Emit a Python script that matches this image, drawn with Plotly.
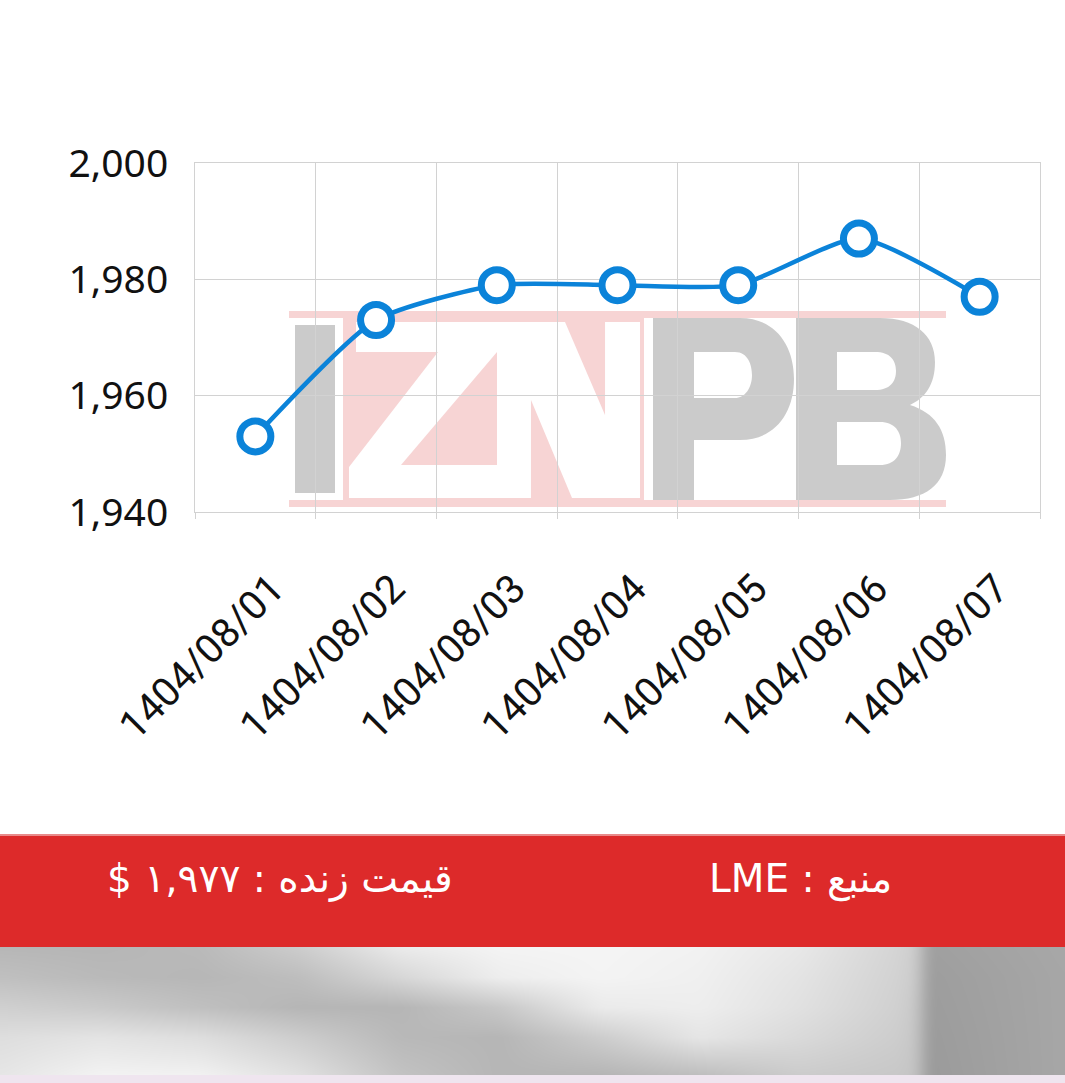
import base64
import struct
import zlib

import numpy as np
import plotly.graph_objects as go

# ---------------- data ----------------
dates = ["1404/08/01", "1404/08/02", "1404/08/03", "1404/08/04",
         "1404/08/05", "1404/08/06", "1404/08/07"]
prices = [1953, 1973, 1979, 1979, 1979, 1987, 1977]
y_tick_vals = [1940, 1960, 1980, 2000]
y_tick_text = ["1,940", "1,960", "1,980", "2,000"]
live_price_label = "قیمت زنده : ۱,۹۷۷ $"
source_label = "منبع : LME"

# ---------------- styling ----------------
W, H = 1065, 1083
BLUE = "#0b83d9"
GRID = "#d2d2d2"
RED = "#dd2a2a"
WM_GRAY = "rgba(190,190,190,0.80)"
WM_PINK = "rgba(240,170,170,0.50)"
RLE, PDF = "\u202b", "\u202c"   # right-to-left embedding for Persian labels


def px(x):
    return x / W


def py(y):
    return 1 - y / H


def path(points_str):
    """Convert a pixel-space path ('M x,y L x,y ...') into paper coordinates."""
    out = []
    for tok in points_str.split():
        if "," in tok:
            a, b = tok.split(",")
            out.append(f"{px(float(a)):.5f},{py(float(b)):.5f}")
        else:
            out.append(tok)
    return " ".join(out)


fig = go.Figure()
fig.add_trace(go.Scatter(
    x=dates, y=prices, mode="lines+markers",
    line=dict(color=BLUE, width=4.5, shape="spline", smoothing=0.6),
    marker=dict(size=31, color="white", line=dict(color=BLUE, width=7)),
    cliponaxis=False, showlegend=False, hoverinfo="x+y",
))

shapes = []


def rect(x0, y0, x1, y1, color, layer="below"):
    return dict(type="rect", xref="paper", yref="paper",
                x0=px(x0), x1=px(x1), y0=py(y1), y1=py(y0),
                fillcolor=color, line=dict(width=0), layer=layer)


# --- watermark (IZNPB) ---
shapes.append(rect(289, 311, 946, 318, WM_PINK))
shapes.append(rect(289, 500, 946, 507, WM_PINK))
shapes.append(rect(295, 325, 335, 493, WM_GRAY))
zn = ("M 343,318 L 644,318 L 644,500 L 343,500 Z "
      "M 356,322 L 497,322 L 497,352 L 401,465 L 497,465 L 497,498 L 349,498 "
      "L 349,467 L 438,352 L 356,352 Z "
      "M 497,322 L 565,322 L 605,415 L 605,322 L 640,322 L 640,498 L 572,498 "
      "L 531,400 L 531,498 L 497,498 Z")
shapes.append(dict(type="path", xref="paper", yref="paper", path=path(zn),
                   fillcolor=WM_PINK, fillrule="evenodd", line=dict(width=0), layer="below"))
p_path = ("M 653,318 L 740,318 C 775,318 794,345 794,379 C 794,413 775,440 740,440 "
          "L 694,440 L 694,500 L 653,500 Z "
          "M 694,352 L 735,352 C 748,352 752,365 752,375 C 752,388 745,398 735,398 L 694,398 Z")
shapes.append(dict(type="path", xref="paper", yref="paper", path=path(p_path),
                   fillcolor=WM_GRAY, fillrule="evenodd", line=dict(width=0), layer="below"))
b_path = ("M 796,318 L 880,318 C 915,318 935,335 935,362 C 935,385 925,398 910,405 "
          "C 935,413 946,430 946,455 C 946,485 925,500 890,500 L 796,500 Z "
          "M 837,352 L 875,352 C 890,352 896,360 896,371 C 896,382 890,390 875,390 L 837,390 Z "
          "M 837,422 L 880,422 C 895,422 901,432 901,443 C 901,455 895,465 880,465 L 837,465 Z")
shapes.append(dict(type="path", xref="paper", yref="paper", path=path(b_path),
                   fillcolor=WM_GRAY, fillrule="evenodd", line=dict(width=0), layer="below"))

# --- red info band and bottom strip ---
shapes.append(rect(0, 835, W, 947, RED))
shapes.append(rect(0, 834, W, 836, "#e88a8a"))
shapes.append(rect(0, 1075, W, H, "#efe5ef"))

# --- blurred grey photo strip (decorative background, built as a small PNG) ---
STRIP_H = 128
ctrl_x = [0, 100, 200, 300, 400, 500, 600, 700, 800, 900, 915, 930, 1065]
ctrl_y = [0, 30, 60, 90, 128]
ctrl_gray = [
    [183, 182, 186, 205, 235, 244, 245, 242, 232, 212, 205, 160, 168],
    [192, 186, 183, 190, 215, 238, 244, 240, 228, 210, 203, 158, 167],
    [208, 202, 192, 182, 182, 200, 235, 238, 225, 208, 200, 157, 167],
    [222, 228, 222, 205, 185, 182, 205, 230, 218, 205, 198, 156, 167],
    [230, 243, 242, 225, 195, 182, 181, 190, 204, 200, 196, 155, 167],
]
xs = np.arange(W)
rows = np.array([np.interp(xs, ctrl_x, r) for r in ctrl_gray])          # 5 x W
ys = np.arange(STRIP_H)
img = np.empty((STRIP_H, W))
for j in range(W):
    img[:, j] = np.interp(ys, ctrl_y, rows[:, j])
# soften with a small horizontal box blur
k = 9
pad = np.pad(img, ((0, 0), (k, k)), mode="edge")
cs = np.cumsum(pad, axis=1)
img = (cs[:, 2 * k:] - cs[:, :-2 * k]) / (2 * k)
img = np.clip(img[:, :W], 0, 255).astype(np.uint8)


def png_data_uri(arr):
    h, w = arr.shape
    raw = b"".join(b"\x00" + arr[i].tobytes() for i in range(h))

    def chunk(tag, data):
        return (struct.pack(">I", len(data)) + tag + data
                + struct.pack(">I", zlib.crc32(tag + data) & 0xFFFFFFFF))

    png = (b"\x89PNG\r\n\x1a\n"
           + chunk(b"IHDR", struct.pack(">IIBBBBB", w, h, 8, 0, 0, 0, 0))
           + chunk(b"IDAT", zlib.compress(raw, 9))
           + chunk(b"IEND", b""))
    return "data:image/png;base64," + base64.b64encode(png).decode("ascii")


strip_uri = png_data_uri(img)

PERSIAN_FONT = dict(family="DejaVu Sans", size=39, color="white")

fig.update_layout(
    width=W, height=H, autosize=False,
    margin=dict(l=0, r=0, t=0, b=0, pad=0),
    paper_bgcolor="white", plot_bgcolor="rgba(0,0,0,0)",
    shapes=shapes,
    images=[dict(source=strip_uri, xref="paper", yref="paper",
                 x=0, y=py(947), sizex=1, sizey=STRIP_H / H,
                 xanchor="left", yanchor="top", sizing="stretch", layer="below")],
    annotations=[
        dict(text=RLE + live_price_label + PDF, xref="paper", yref="paper",
             x=px(280), y=py(879), xanchor="center", yanchor="middle",
             showarrow=False, font=PERSIAN_FONT),
        dict(text=RLE + source_label + PDF, xref="paper", yref="paper",
             x=px(800), y=py(879), xanchor="center", yanchor="middle",
             showarrow=False, font=PERSIAN_FONT),
    ],
    xaxis=dict(
        domain=[px(195), px(1040)], type="category", tickson="boundaries",
        range=[-0.5, 6.5], showgrid=True, gridcolor=GRID, gridwidth=1,
        showline=True, mirror=True, linecolor=GRID, linewidth=1,
        ticks="outside", ticklen=6, tickcolor=GRID,
        tickangle=-45, tickfont=dict(family="Roboto", size=40, color="#111"),
        ticklabelstandoff=36, ticklabelshift=17,
        automargin=False, zeroline=False,
    ),
    yaxis=dict(
        domain=[py(512), py(163)], range=[1940, 2000],
        tickmode="array", tickvals=y_tick_vals, ticktext=y_tick_text,
        showgrid=True, gridcolor=GRID, gridwidth=1,
        showline=True, mirror=True, linecolor=GRID, linewidth=1,
        ticks="", ticklabelstandoff=18,
        tickfont=dict(family="Noto Sans", size=39, color="#111"),
        automargin=False, zeroline=False,
    ),
)

fig.write_html("out.html", config={"displayModeBar": False},
               post_script="document.body.style.margin='0';")
